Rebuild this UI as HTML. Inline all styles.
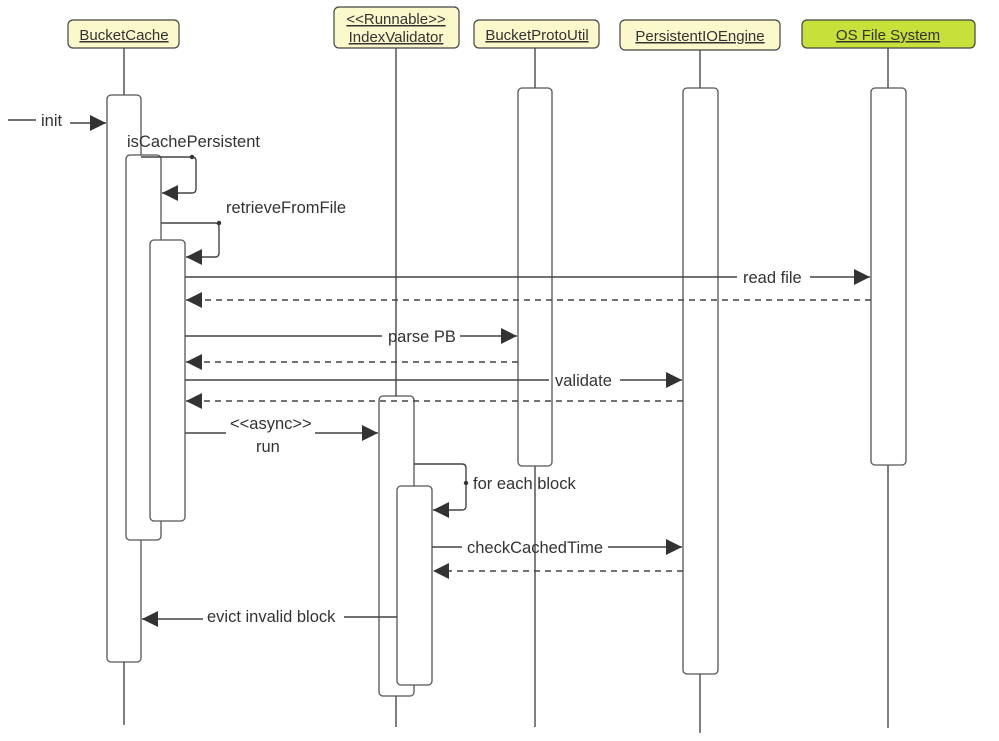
<!DOCTYPE html>
<html><head><meta charset="utf-8"><style>
html,body{margin:0;padding:0;background:#fff;}
svg text{font-family:"Liberation Sans","DejaVu Sans",sans-serif;fill:#333;}
</style></head><body>
<svg width="999" height="736" viewBox="0 0 999 736" xmlns="http://www.w3.org/2000/svg">
<defs>
<marker id="a" viewBox="0 0 10 10" refX="10" refY="5" markerWidth="16" markerHeight="16" markerUnits="userSpaceOnUse" orient="auto"><path d="M0,0 L10,5 L0,10 z" fill="#333"/></marker>
</defs>
<g stroke="#555" stroke-width="1.5" fill="none">
<line x1="124" y1="48" x2="124" y2="725"/>
<line x1="396" y1="48" x2="396" y2="727"/>
<line x1="535" y1="48" x2="535" y2="727"/>
<line x1="700" y1="50" x2="700" y2="733"/>
<line x1="888" y1="48" x2="888" y2="728"/>
</g>
<g stroke="#444" stroke-width="1.2">
<rect x="68" y="20" width="111" height="28" rx="5" fill="#fbf8cc"/>
<rect x="334" y="7" width="125" height="41" rx="5" fill="#fbf8cc"/>
<rect x="474" y="20" width="125" height="28" rx="5" fill="#fbf8cc"/>
<rect x="620" y="20" width="160" height="30" rx="5" fill="#fbf8cc"/>
<rect x="802" y="20" width="173" height="28" rx="5" fill="#c8e03a"/>
</g>
<g font-size="15" text-anchor="middle">
<text x="124" y="40" style="text-decoration:underline">BucketCache</text>
<text x="396" y="24" style="text-decoration:underline">&lt;&lt;Runnable&gt;&gt;</text>
<text x="396" y="42" style="text-decoration:underline">IndexValidator</text>
<text x="537" y="40" style="text-decoration:underline">BucketProtoUtil</text>
<text x="700" y="41" style="text-decoration:underline">PersistentIOEngine</text>
<text x="888" y="40" style="text-decoration:underline">OS File System</text>
</g>
<g stroke="#555" stroke-width="1.3" fill="#fff">
<rect x="107" y="95" width="34" height="567" rx="4"/>
<rect x="126" y="155" width="35" height="385" rx="4"/>
<rect x="150" y="240" width="35" height="281" rx="4"/>
<rect x="518" y="88" width="34" height="378" rx="4"/>
<rect x="683" y="88" width="35" height="586" rx="4"/>
<rect x="871" y="88" width="35" height="377" rx="4"/>
<rect x="379" y="396" width="35" height="300" rx="4"/>
<rect x="397" y="486" width="35" height="199" rx="4"/>
</g>
<g stroke="#444" stroke-width="1.4" fill="none">
<line x1="8" y1="120" x2="36" y2="120"/>
<line x1="70" y1="123" x2="106" y2="123" marker-end="url(#a)"/>
<path d="M141,157 H192 Q196,157 196,161 V189 Q196,193 192,193 H162" marker-end="url(#a)"/>
<path d="M161,223 H215 Q219,223 219,227 V253 Q219,257 215,257 H186" marker-end="url(#a)"/>
<line x1="185" y1="277" x2="737" y2="277"/>
<line x1="810" y1="277" x2="870" y2="277" marker-end="url(#a)"/>
<line x1="871" y1="300" x2="186" y2="300" stroke-dasharray="6,5" marker-end="url(#a)"/>
<line x1="185" y1="336" x2="382" y2="336"/>
<line x1="460" y1="336" x2="517" y2="336" marker-end="url(#a)"/>
<line x1="518" y1="362" x2="186" y2="362" stroke-dasharray="6,5" marker-end="url(#a)"/>
<line x1="185" y1="380" x2="549" y2="380"/>
<line x1="620" y1="380" x2="682" y2="380" marker-end="url(#a)"/>
<line x1="683" y1="401" x2="186" y2="401" stroke-dasharray="6,5" marker-end="url(#a)"/>
<line x1="185" y1="433" x2="226" y2="433"/>
<line x1="315" y1="433" x2="378" y2="433" marker-end="url(#a)"/>
<path d="M414,464 H462 Q466,464 466,468 V506 Q466,510 462,510 H433" marker-end="url(#a)"/>
<line x1="432" y1="547" x2="462" y2="547"/>
<line x1="608" y1="547" x2="682" y2="547" marker-end="url(#a)"/>
<line x1="683" y1="571" x2="433" y2="571" stroke-dasharray="6,5" marker-end="url(#a)"/>
<line x1="397" y1="617" x2="344" y2="617"/>
<line x1="203" y1="619" x2="142" y2="619" marker-end="url(#a)"/>
</g>
<g fill="#333"><circle cx="192" cy="157" r="2.2"/><circle cx="219" cy="223" r="2.2"/><circle cx="466" cy="483" r="2.2"/></g>
<g font-size="16.5">
<text x="41" y="126">init</text>
<text x="127" y="147">isCachePersistent</text>
<text x="226" y="213">retrieveFromFile</text>
<text x="743" y="283">read file</text>
<text x="388" y="342">parse PB</text>
<text x="555" y="386">validate</text>
<text x="230" y="429">&lt;&lt;async&gt;&gt;</text>
<text x="256" y="452">run</text>
<text x="473" y="489">for each block</text>
<text x="467" y="553">checkCachedTime</text>
<text x="207" y="622">evict invalid block</text>
</g>
</svg>
</body></html>
